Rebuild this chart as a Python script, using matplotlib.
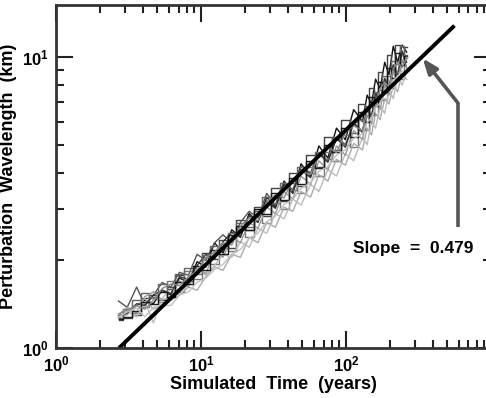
import numpy as np
import matplotlib
matplotlib.use("Agg")
import matplotlib.pyplot as plt
from matplotlib.ticker import FixedLocator, FuncFormatter

plt.rcParams['font.family'] = ['Liberation Sans', 'DejaVu Sans']
plt.rcParams['mathtext.fontset'] = 'custom'
plt.rcParams['mathtext.bf'] = 'Liberation Sans:bold'
plt.rcParams['mathtext.rm'] = 'Liberation Sans:bold'

# simulated times (years), shared by all runs
t = [2.7, 3.1, 3.6, 4.1, 4.7, 5.4, 6.2, 7.1, 8.2, 9.4,
     10.8, 12.4, 14.2, 16.3, 18.7, 21.5, 24.7, 28.4, 32.6, 37.4,
     43, 49, 57, 65, 75, 86, 99, 113, 130, 140,
     150, 160, 172, 185, 198, 212, 227, 244, 262]

# perturbation wavelength (km) for each run
runs = [
    [1.27, 1.32, 1.40, 1.46, 1.42, 1.58, 1.52, 1.74, 1.68, 1.98, 1.90, 2.30, 2.12, 2.55, 2.40, 2.90, 2.70, 3.30, 3.05, 3.75,
     3.40, 4.30, 3.90, 4.95, 4.50, 5.70, 5.20, 6.60, 6.00, 7.40, 6.90, 8.40, 7.80, 9.60, 8.70, 10.9, 9.60, 11.0, 10.4],
    [1.25, 1.27, 1.30, 1.48, 1.52, 1.46, 1.62, 1.78, 1.70, 1.86, 2.12, 2.02, 2.35, 2.20, 2.75, 2.55, 3.05, 2.85, 3.55, 3.20,
     4.00, 3.60, 4.60, 4.20, 5.30, 4.80, 6.10, 5.50, 6.90, 6.30, 7.80, 7.10, 8.90, 8.00, 10.2, 9.00, 11.0, 9.60, 10.8],
    [1.45, 1.38, 1.62, 1.40, 1.52, 1.68, 1.62, 1.82, 1.78, 2.10, 2.00, 2.30, 2.45, 2.30, 2.70, 2.95, 2.80, 3.40, 3.10, 3.70,
     3.50, 4.20, 4.00, 4.70, 4.40, 5.30, 5.00, 5.90, 5.50, 6.60, 6.20, 7.40, 7.00, 8.30, 7.60, 9.30, 8.40, 10.4, 9.20],
    [1.30, 1.36, 1.32, 1.38, 1.48, 1.44, 1.70, 1.56, 1.84, 1.72, 2.05, 1.95, 2.28, 2.15, 2.55, 2.40, 2.95, 2.70, 3.30, 3.00,
     3.70, 3.40, 4.20, 3.90, 4.70, 4.40, 5.40, 4.90, 6.10, 5.60, 6.90, 6.30, 7.70, 7.10, 8.60, 7.80, 9.50, 8.40, 9.90],
    [1.28, 1.30, 1.40, 1.48, 1.36, 1.40, 1.46, 1.52, 1.62, 1.58, 1.76, 1.90, 1.85, 2.10, 2.05, 2.40, 2.30, 2.70, 2.60, 3.05,
     2.95, 3.45, 3.30, 3.95, 3.75, 4.45, 4.25, 5.05, 4.80, 5.70, 5.40, 6.40, 6.10, 7.20, 6.90, 8.00, 7.60, 8.80, 8.40],
    [1.26, 1.34, 1.28, 1.44, 1.22, 1.48, 1.60, 1.52, 1.66, 1.88, 1.78, 1.92, 2.10, 2.05, 2.32, 2.22, 2.58, 2.48, 2.90, 2.78,
     3.25, 3.10, 3.65, 3.45, 4.10, 3.90, 4.65, 4.40, 5.30, 5.00, 6.00, 5.70, 6.80, 6.40, 7.70, 7.20, 8.60, 8.00, 9.00],
    [1.29, 1.32, 1.42, 1.40, 1.52, 1.58, 1.54, 1.76, 1.72, 1.92, 2.10, 2.02, 2.32, 2.50, 2.42, 2.85, 2.72, 3.20, 3.02, 3.65,
     3.42, 4.10, 3.85, 4.65, 4.35, 5.25, 4.90, 5.95, 5.55, 6.70, 6.25, 7.55, 7.05, 8.45, 7.85, 9.40, 8.70, 10.5, 9.60],
    [1.27, 1.36, 1.46, 1.55, 1.50, 1.66, 1.60, 1.80, 1.88, 1.80, 2.08, 2.25, 2.20, 2.48, 2.70, 2.60, 2.95, 3.30, 3.15, 3.70,
     3.50, 4.20, 4.00, 4.70, 4.45, 5.30, 5.00, 6.00, 5.60, 6.80, 6.30, 7.60, 7.10, 8.60, 8.00, 9.70, 8.90, 10.9, 10.2],
    [1.30, 1.38, 1.32, 1.50, 1.56, 1.46, 1.50, 1.70, 1.62, 1.88, 1.80, 2.15, 2.05, 2.42, 2.30, 2.70, 2.58, 3.05, 2.90, 3.45,
     3.25, 3.90, 3.65, 4.40, 4.10, 4.95, 4.60, 5.60, 5.20, 6.30, 5.90, 7.10, 6.60, 8.00, 7.40, 8.90, 8.30, 9.80, 9.20],
    [1.26, 1.28, 1.34, 1.44, 1.42, 1.56, 1.50, 1.68, 1.66, 1.92, 1.86, 2.18, 2.10, 2.45, 2.62, 2.55, 3.00, 2.88, 3.40, 3.22,
     3.85, 3.65, 4.40, 4.15, 5.00, 4.70, 5.70, 5.30, 6.45, 6.00, 7.30, 6.80, 8.20, 7.60, 9.20, 8.50, 10.3, 9.40, 10.1],
    [1.31, 1.35, 1.40, 1.36, 1.46, 1.60, 1.66, 1.64, 1.76, 1.84, 2.04, 2.14, 2.30, 2.26, 2.62, 2.80, 2.74, 3.18, 3.36, 3.28,
     3.80, 4.05, 3.95, 4.60, 4.90, 4.70, 5.50, 5.80, 5.60, 6.50, 6.90, 6.70, 7.80, 8.20, 7.90, 9.10, 9.60, 9.20, 10.0],
    [1.28, 1.33, 1.37, 1.28, 1.38, 1.40, 1.40, 1.52, 1.56, 1.68, 1.74, 1.86, 1.94, 2.10, 2.18, 2.38, 2.48, 2.72, 2.84, 3.12,
     3.24, 3.54, 3.70, 4.05, 4.20, 4.60, 4.80, 5.25, 5.45, 5.95, 6.20, 6.70, 6.95, 7.50, 7.80, 8.30, 8.60, 9.00, 8.80],
]
run_colors = ['#111111', '#444444', '#555555', '#777777', '#aaaaaa', '#bbbbbb',
              '#333333', '#666666', '#999999', '#1a1a1a', '#888888', '#c0c0c0']
# some runs grow in discrete jumps (staircase look)
run_steps = ['default', 'steps-mid', 'default', 'steps-mid', 'default', 'default',
             'default', 'steps-mid', 'default', 'steps-mid', 'default', 'default']

# power-law fit
slope = 0.479
prefactor = 0.619
fit_t = [2.72, 560]

fig = plt.figure(figsize=(4.86, 3.98), dpi=100)
ax = fig.add_axes([0.1152, 0.1256, 0.895, 0.8618])

for y, c, ds in zip(runs, run_colors, run_steps):
    ax.plot(t, y, color=c, lw=1.0, drawstyle=ds)

fit_t = np.array(fit_t)
ax.plot(fit_t, prefactor * fit_t ** slope, color='black', lw=2.8, solid_capstyle='butt')

ax.set_xscale('log')
ax.set_yscale('log')
ax.set_xlim(1, 1000)
ax.set_ylim(1, 15.1)


def fmt_pow(v, p):
    if v >= 1000:
        return ''
    return r'$\mathbf{10^{%d}}$' % round(np.log10(v))


ax.xaxis.set_major_locator(FixedLocator([1, 10, 100, 1000]))
ax.yaxis.set_major_locator(FixedLocator([1, 10]))
ax.xaxis.set_major_formatter(FuncFormatter(fmt_pow))
ax.yaxis.set_major_formatter(FuncFormatter(fmt_pow))
ax.tick_params(which='both', direction='in', top=True, right=True, color='#222222', width=1.5,
               labelsize=12)
ax.tick_params(which='major', length=12, pad=5)
ax.tick_params(which='minor', length=6)
for s in ax.spines.values():
    s.set_linewidth(2)
    s.set_color('#333333')

ax.set_xlabel('Simulated  Time  (years)', fontsize=13, fontweight='bold', labelpad=1)
ax.set_ylabel('Perturbation  Wavelength  (km)', fontsize=13, fontweight='bold', labelpad=4)

# slope annotation with bent arrow
ax.text(290, 2.19, 'Slope  =  0.479', fontsize=12.5, fontweight='bold', ha='center', va='center')
ax.plot([592, 592], [2.6, 6.95], color='#555555', lw=2.6, solid_capstyle='butt')
ax.annotate('', xy=(338, 9.9), xytext=(592, 6.95),
            arrowprops=dict(arrowstyle='-|>,head_length=0.9,head_width=0.35', color='#555555', lw=2.6,
                            shrinkA=0, shrinkB=0))

fig.savefig('out.png', dpi=100)
